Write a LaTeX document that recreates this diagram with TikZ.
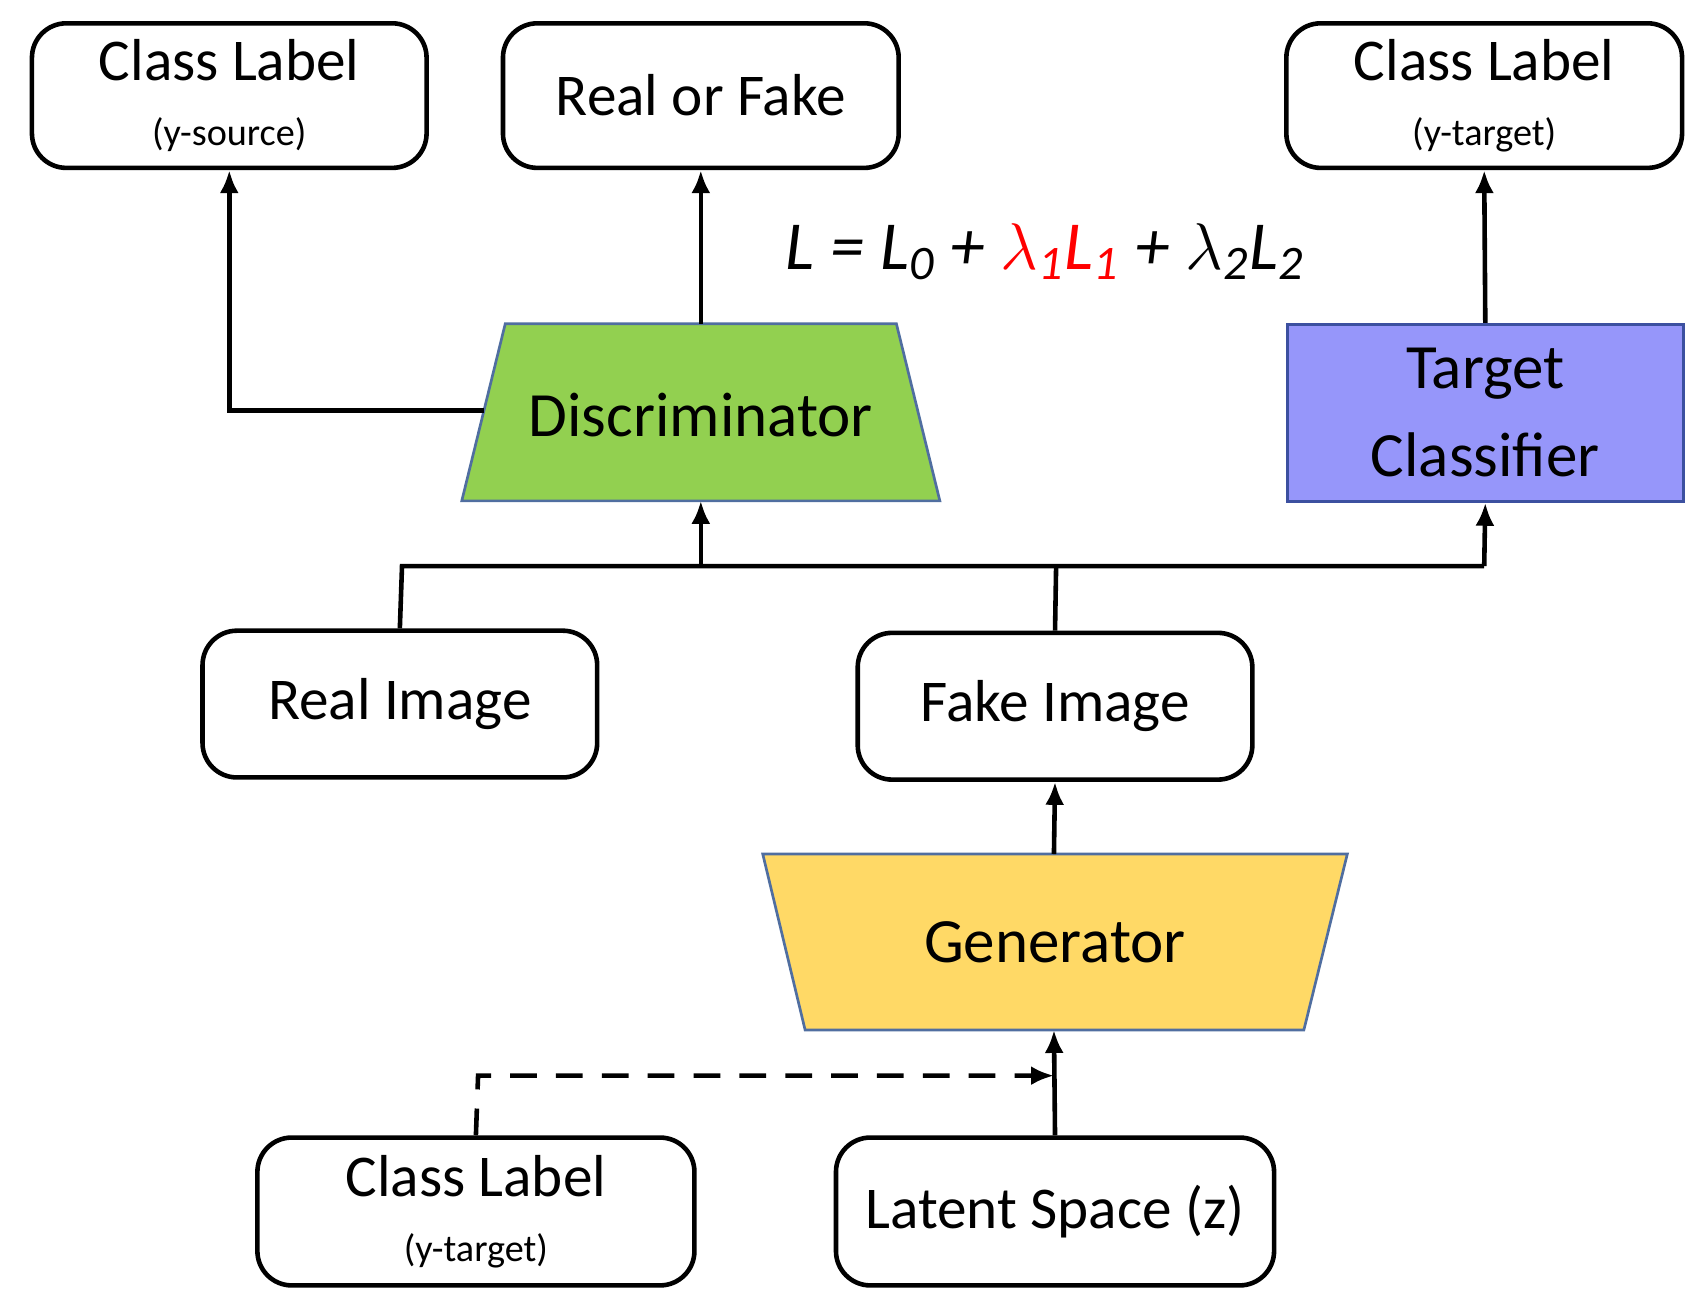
\documentclass[tikz,border=0pt]{standalone}
\usepackage{fontspec}
\setmainfont{Carlito}
\usetikzlibrary{arrows.meta}
\begin{document}
\begin{tikzpicture}[x=0.01cm,y=-0.01cm,
  box/.style={draw,line width=1.2pt,rounded corners=9pt,font=\fontsize{15.5}{18}\selectfont,align=center,inner sep=0pt},
  sub/.style={},
  arr/.style={line width=1.2pt,-{Latex[length=6pt,width=5pt]}},
  ln/.style={line width=1.2pt}]
\useasboundingbox (0,0) rectangle (1560,1198);
\node[box,minimum width=3.63cm,minimum height=1.33cm] (cls) at (211,88) {Class Label\\[-1pt]{\fontsize{10}{12}\selectfont (y-source)}};
\node[box,minimum width=3.64cm,minimum height=1.33cm] (rf) at (645,88) {Real or Fake};
\node[box,minimum width=3.64cm,minimum height=1.33cm] (clt) at (1366,88) {Class Label\\[-1pt]{\fontsize{10}{12}\selectfont (y-target)}};
\node[font=\fontsize{18}{22}\selectfont\itshape] (eq) at (962,232) {L = L\textsubscript{0} + \textcolor{red}{$\lambda$\textsubscript{1}L\textsubscript{1}} + $\lambda$\textsubscript{2}L\textsubscript{2}};
\draw[fill={rgb,255:red,146;green,208;blue,80},draw={rgb,255:red,80;green,110;blue,160},line width=0.7pt] (465,298) -- (825,298) -- (865,461) -- (425,461) -- cycle;
\node[font=\fontsize{16.5}{20}\selectfont,minimum width=4.4cm,minimum height=1.63cm,inner sep=0pt] (dis) at (645,382) {Discriminator};
\node[draw={rgb,255:red,60;green,80;blue,160},line width=0.7pt,fill={rgb,255:red,150;green,150;blue,250},minimum width=3.64cm,minimum height=1.63cm,inner sep=0pt,align=center,font=\fontsize{16.5}{23}\selectfont] (tc) at (1367,380) {Target\\Classifier};
\node[box,minimum width=3.63cm,minimum height=1.35cm] (ri) at (368,648) {Real Image};
\node[box,minimum width=3.63cm,minimum height=1.35cm] (fi) at (971,650) {Fake Image};
\draw[fill={rgb,255:red,255;green,217;blue,102},draw={rgb,255:red,80;green,110;blue,160},line width=0.7pt] (702,786) -- (1240,786) -- (1200,948) -- (741,948) -- cycle;
\node[font=\fontsize{16.5}{20}\selectfont,minimum width=5.38cm,minimum height=1.62cm,inner sep=0pt] (gen) at (971,867) {Generator};
\node[box,minimum width=4.02cm,minimum height=1.36cm] (clb) at (438,1115) {Class Label\\[-1pt]{\fontsize{10}{12}\selectfont (y-target)}};
\node[box,minimum width=4.03cm,minimum height=1.36cm] (lat) at (971,1115) {Latent Space (z)};
\coordinate (b1) at (370,521); \coordinate (b2) at (645,521); \coordinate (b3) at (972,521); \coordinate (b4) at (1366,521);
\coordinate (dl) at (445,378);
\draw[ln] (ri.north) -- (b1) -- (b4);
\draw[ln] (b3) -- (fi.north);
\draw[arr] (b2) -- (645,461);
\draw[arr] (b4) -- (tc.south);
\draw[arr] (dl) -- (211,378) -- (cls.south);
\draw[arr] (645,298) -- (rf.south);
\draw[arr] (tc.north) -- (clt.south);
\draw[arr] (970,786) -- (fi.south);
\draw[arr] (lat.north) -- (970,948);
\draw[arr,dashed,dash pattern=on 7pt off 5pt] (clb.north) -- (440,990) -- (970,990);
\end{tikzpicture}
\end{document}
